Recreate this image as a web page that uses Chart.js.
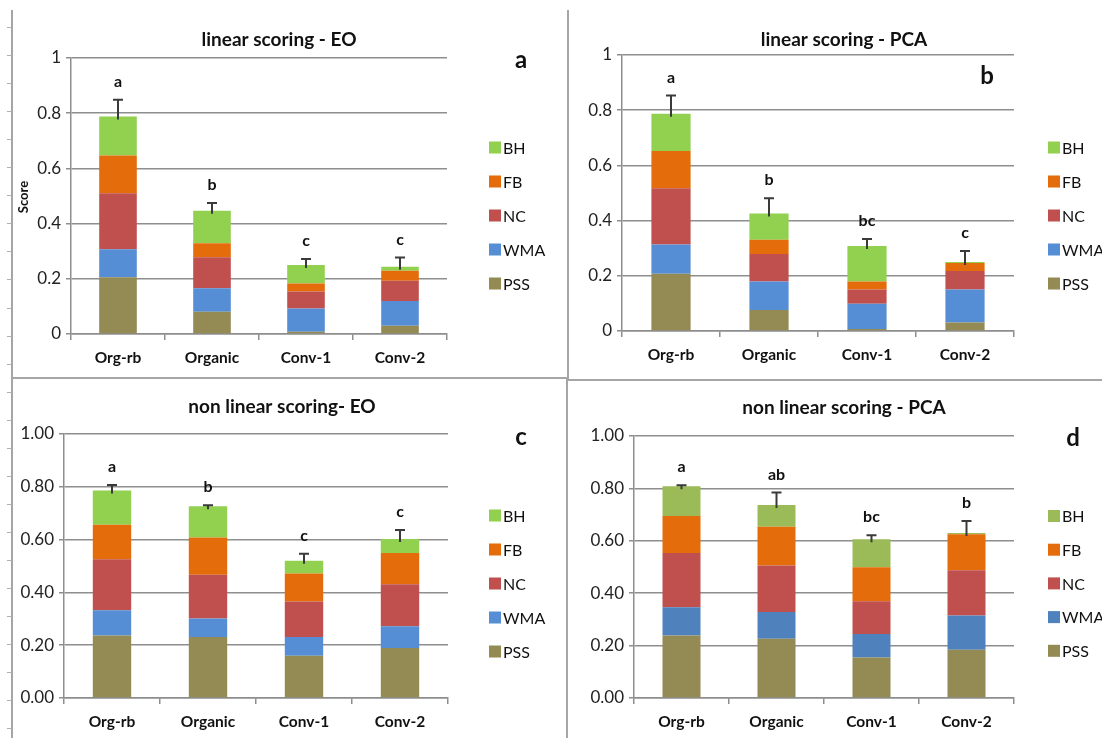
<!DOCTYPE html>
<html>
<head>
<meta charset="utf-8">
<script src="https://cdn.jsdelivr.net/npm/chart.js@4.4.1/dist/chart.umd.min.js"></script>
<style>
  html, body { margin: 0; padding: 0; background: #ffffff; }
  #wrap { position: relative; width: 1102px; height: 738px; overflow: hidden; background: #ffffff; }
  #wrap canvas { position: absolute; left: 0; top: 0; }
</style>
</head>
<body>
<div id="wrap">
  <canvas id="frame" width="1102" height="738"></canvas>
  <canvas id="panelA" width="1102" height="738"></canvas>
  <canvas id="panelB" width="1102" height="738"></canvas>
  <canvas id="panelC" width="1102" height="738"></canvas>
  <canvas id="panelD" width="1102" height="738"></canvas>
</div>
<script>
// ---- data ----
const categories = ['Org-rb', 'Organic', 'Conv-1', 'Conv-2'];
const seriesNames = ['PSS', 'WMA', 'NC', 'FB', 'BH'];

// linear scoring - EO
const linEO_PSS = [0.206, 0.081, 0.008, 0.030];
const linEO_WMA = [0.101, 0.085, 0.084, 0.090];
const linEO_NC  = [0.203, 0.112, 0.062, 0.073];
const linEO_FB  = [0.137, 0.051, 0.029, 0.036];
const linEO_BH  = [0.141, 0.118, 0.067, 0.015];
const linEO_err = [0.061, 0.028, 0.022, 0.033];
const linEO_sig = ['a', 'b', 'c', 'c'];

// linear scoring - PCA
const linPCA_PSS = [0.207, 0.076, 0.007, 0.031];
const linPCA_WMA = [0.106, 0.103, 0.092, 0.119];
const linPCA_NC  = [0.204, 0.100, 0.051, 0.067];
const linPCA_FB  = [0.135, 0.052, 0.029, 0.029];
const linPCA_BH  = [0.135, 0.095, 0.129, 0.004];
const linPCA_err = [0.066, 0.055, 0.025, 0.040];
const linPCA_sig = ['a', 'b', 'bc', 'c'];

// non linear scoring - EO
const nlEO_PSS = [0.237, 0.231, 0.160, 0.189];
const nlEO_WMA = [0.095, 0.070, 0.071, 0.083];
const nlEO_NC  = [0.194, 0.166, 0.135, 0.159];
const nlEO_FB  = [0.130, 0.141, 0.106, 0.118];
const nlEO_BH  = [0.130, 0.118, 0.048, 0.053];
const nlEO_err = [0.021, 0.004, 0.026, 0.034];
const nlEO_sig = ['a', 'b', 'c', 'c'];

// non linear scoring - PCA
const nlPCA_PSS = [0.239, 0.226, 0.155, 0.184];
const nlPCA_WMA = [0.107, 0.102, 0.089, 0.131];
const nlPCA_NC  = [0.207, 0.178, 0.125, 0.173];
const nlPCA_FB  = [0.142, 0.148, 0.130, 0.137];
const nlPCA_BH  = [0.113, 0.083, 0.107, 0.005];
const nlPCA_err = [0.004, 0.047, 0.015, 0.046];
const nlPCA_sig = ['a', 'ab', 'bc', 'b'];

const yTickValues = [0, 0.2, 0.4, 0.6, 0.8, 1];

// ---- styles ----
const FONT = 'Lato, "Open Sans", "Liberation Sans", sans-serif';
const GRID = '#8e8e8e';
const colorsBright = ['#948A54', '#558ED5', '#C0504D', '#E46C0A', '#92D050'];
const colorsMuted  = ['#948A54', '#4F81BD', '#C0504D', '#E46C0A', '#9BBB59'];

// ---- page frame ----
(function drawFrame() {
  const c = document.getElementById('frame').getContext('2d');
  c.strokeStyle = '#a6a6a6';
  c.lineWidth = 2;
  const seg = (x1, y1, x2, y2) => { c.beginPath(); c.moveTo(x1, y1); c.lineTo(x2, y2); c.stroke(); };
  seg(12, 10, 12, 738);
  seg(12, 378, 567, 378);
  seg(568, 10, 568, 380);
  seg(568, 380, 1102, 380);
  seg(567, 378, 567, 738);
  c.lineWidth = 1;
  c.strokeStyle = '#b0b0b0';
  for (let y = 27; y < 738; y += 28.05) seg(7, Math.round(y) + 0.5, 12, Math.round(y) + 0.5);
})();

// ---- overlays: error bars, letters, titles, legend ----
const overlayPlugin = {
  id: 'overlay',
  afterDatasetsDraw(chart) {
    const p = chart.options.plugins.overlay;
    const ctx = chart.ctx;
    const xs = chart.scales.x, ys = chart.scales.y;
    ctx.save();
    categories.forEach((cat, i) => {
      let total = 0;
      chart.data.datasets.forEach(ds => { total += ds.data[i]; });
      const x = xs.getPixelForValue(i);
      const yTop = ys.getPixelForValue(total);
      const yErr = ys.getPixelForValue(total + p.err[i]);
      ctx.strokeStyle = '#3a3a3a';
      ctx.lineWidth = 2;
      ctx.beginPath();
      ctx.moveTo(x, yTop + 3);
      ctx.lineTo(x, yErr);
      ctx.moveTo(x - 5, yErr);
      ctx.lineTo(x + 5, yErr);
      ctx.stroke();
      ctx.fillStyle = '#111';
      ctx.font = 'bold 16px ' + FONT;
      ctx.textAlign = 'center';
      ctx.textBaseline = 'middle';
      ctx.fillText(p.sig[i], x, yErr - 18);
    });
    ctx.restore();
  },
  afterDraw(chart) {
    const p = chart.options.plugins.overlay;
    const ctx = chart.ctx;
    ctx.save();
    ctx.fillStyle = '#111';
    ctx.textAlign = 'center';
    ctx.textBaseline = 'middle';
    ctx.font = 'bold 19px ' + FONT;
    ctx.fillText(p.title, p.titleX, p.titleY);
    ctx.font = 'bold 24px ' + FONT;
    ctx.fillText(p.letter, p.letterX, p.letterY);
    if (p.yTitle) {
      ctx.save();
      ctx.translate(p.yTitle.x, p.yTitle.y);
      ctx.rotate(-Math.PI / 2);
      ctx.font = 'bold 13px ' + FONT;
      ctx.fillText(p.yTitle.text, 0, 0);
      ctx.restore();
    }
    // legend, top entry is the last stacked series
    ctx.textAlign = 'left';
    ctx.font = '16px ' + FONT;
    const ds = chart.data.datasets.slice().reverse();
    ds.forEach((d, k) => {
      const yc = p.legendY + k * p.legendStep;
      ctx.fillStyle = d.backgroundColor;
      ctx.fillRect(p.legendX, yc - 6, 12, 12);
      ctx.fillStyle = '#111';
      ctx.fillText(d.label, p.legendX + 14, yc + 1);
    });
    ctx.restore();
  }
};

function makePanel(cfg) {
  const yW = 52, xH = 44;
  const datasets = seriesNames.map((name, i) => ({
    label: name,
    data: cfg.values[i],
    backgroundColor: cfg.colors[i],
    borderWidth: 0,
    barPercentage: 0.4,
    categoryPercentage: 1.0
  }));
  return new Chart(document.getElementById(cfg.id), {
    type: 'bar',
    data: { labels: categories, datasets },
    options: {
      responsive: false,
      animation: false,
      devicePixelRatio: 1,
      layout: { padding: { left: cfg.L - yW, right: 1102 - cfg.R, top: cfg.T, bottom: 738 - cfg.B - xH } },
      plugins: {
        legend: { display: false },
        tooltip: { enabled: false },
        overlay: cfg.overlay
      },
      scales: {
        x: {
          stacked: true,
          offset: true,
          grid: { offset: true, drawOnChartArea: false, drawTicks: true, tickLength: 6, color: GRID, lineWidth: 1.5 },
          border: { color: GRID, width: 1.5 },
          ticks: { color: '#111', font: { family: FONT, size: 15.5, weight: 'bold' }, padding: 9 },
          afterFit(s) { s.height = xH; }
        },
        y: {
          stacked: true,
          min: 0,
          max: 1,
          afterBuildTicks(s) { s.ticks = yTickValues.map(v => ({ value: v })); },
          ticks: {
            color: '#222',
            font: { family: FONT, size: 17 },
            padding: 5,
            callback: v => cfg.decimals === 2 ? Number(v).toFixed(2) : String(+Number(v).toFixed(1))
          },
          grid: { color: GRID, lineWidth: 1.5, tickLength: 5 },
          border: { color: GRID, width: 1.5 },
          afterFit(s) { s.width = yW; }
        }
      }
    },
    plugins: [overlayPlugin]
  });
}

makePanel({
  id: 'panelA', L: 71, R: 447, T: 58, B: 334, decimals: 1,
  values: [linEO_PSS, linEO_WMA, linEO_NC, linEO_FB, linEO_BH],
  colors: colorsBright,
  overlay: { err: linEO_err, sig: linEO_sig, title: 'linear scoring - EO', titleX: 279, titleY: 40,
             letter: 'a', letterX: 521, letterY: 60, legendX: 489, legendY: 147.5, legendStep: 34,
             yTitle: { text: 'Score', x: 24, y: 197 } }
});
makePanel({
  id: 'panelB', L: 622, R: 1014, T: 55, B: 331, decimals: 1,
  values: [linPCA_PSS, linPCA_WMA, linPCA_NC, linPCA_FB, linPCA_BH],
  colors: colorsBright,
  overlay: { err: linPCA_err, sig: linPCA_sig, title: 'linear scoring - PCA', titleX: 844, titleY: 40,
             letter: 'b', letterX: 987, letterY: 76, legendX: 1048, legendY: 147.5, legendStep: 34 }
});
makePanel({
  id: 'panelC', L: 64, R: 448, T: 434, B: 698, decimals: 2,
  values: [nlEO_PSS, nlEO_WMA, nlEO_NC, nlEO_FB, nlEO_BH],
  colors: colorsBright,
  overlay: { err: nlEO_err, sig: nlEO_sig, title: 'non linear scoring- EO', titleX: 282, titleY: 407,
             letter: 'c', letterX: 521, letterY: 437, legendX: 489, legendY: 515.5, legendStep: 34 }
});
makePanel({
  id: 'panelD', L: 634, R: 1014, T: 436, B: 698, decimals: 2,
  values: [nlPCA_PSS, nlPCA_WMA, nlPCA_NC, nlPCA_FB, nlPCA_BH],
  colors: colorsMuted,
  overlay: { err: nlPCA_err, sig: nlPCA_sig, title: 'non linear scoring - PCA', titleX: 844, titleY: 408,
             letter: 'd', letterX: 1073, letterY: 438, legendX: 1048, legendY: 516, legendStep: 33.7 }
});
</script>
</body>
</html>
